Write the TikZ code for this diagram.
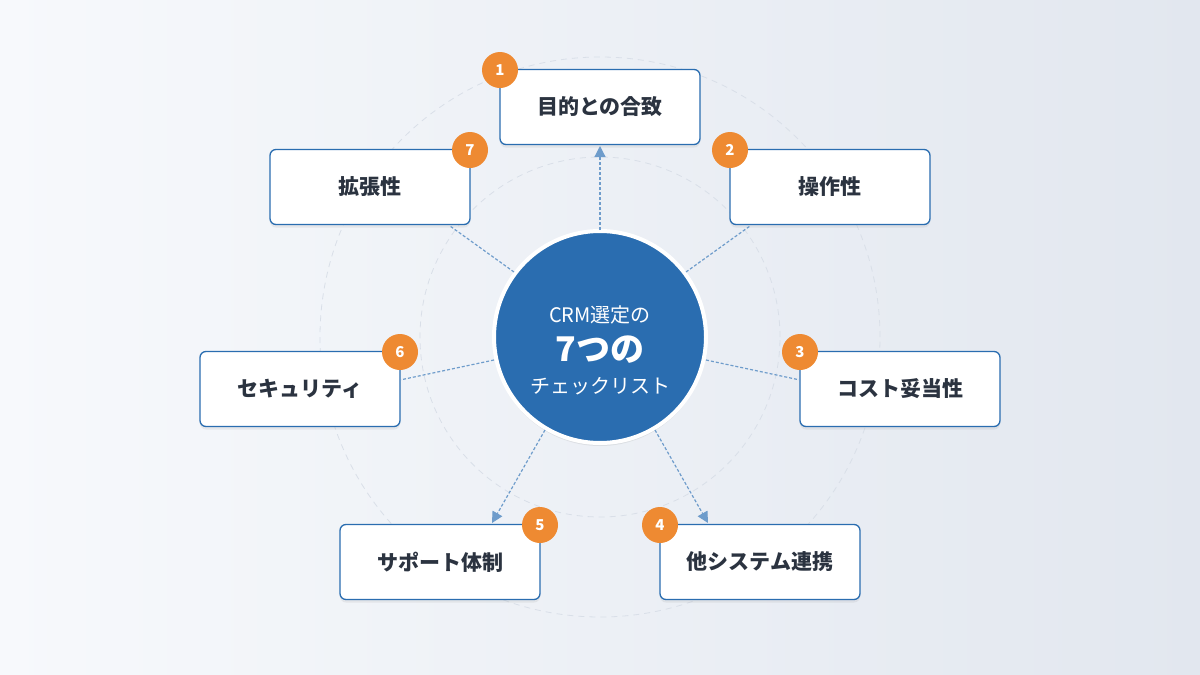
\documentclass[tikz,border=0pt]{standalone}
\usepackage{fontspec}
\setmainfont{Noto Sans CJK JP}
\usetikzlibrary{arrows.meta,shadows}
\definecolor{mainblue}{HTML}{2A6DB0}
\definecolor{lineblue}{HTML}{6E9CCB}
\definecolor{badge}{HTML}{EE8A32}
\definecolor{txt}{HTML}{2B3340}
\definecolor{bgA}{HTML}{F7F9FC}
\definecolor{bgB}{HTML}{E2E7EF}
\definecolor{ringc}{HTML}{D9DFE8}
\begin{document}
\begin{tikzpicture}[x=1pt,y=-1pt,
  box/.style={draw=mainblue,line width=1.3pt,fill=white,rounded corners=6pt,minimum width=200pt,minimum height=75pt,font=\bfseries\fontsize{21}{24}\selectfont,text=txt,drop shadow={opacity=0.12,shadow xshift=0pt,shadow yshift=-3pt}},
  num/.style={circle,fill=badge,minimum size=36pt,inner sep=0pt,text=white,font=\bfseries\fontsize{15}{18}\selectfont},
  conn/.style={draw=lineblue,line width=1.2pt,dash pattern=on 3pt off 2pt},
  arr/.style={conn,-{Triangle[length=11pt,width=11pt]}},
  ring/.style={draw=ringc,line width=0.8pt,dash pattern=on 6pt off 5pt}]
\useasboundingbox (0,0) rectangle (1200,675);
\shade[left color=bgA,right color=bgB] (0,0) rectangle (1200,675);
\path[ring] (600,337) circle (180pt);
\path[ring] (600,337) circle (280pt);
\node[circle,fill=mainblue,draw=white,line width=4pt,minimum size=212pt,drop shadow={opacity=0.15,shadow xshift=0pt,shadow yshift=-3pt}] (c) at (600,337) {};
\node[text=white,font=\fontsize{20}{24}\selectfont] (t1) at (600,315) {CRM選定の};
\node[text=white,font=\bfseries\fontsize{34}{40}\selectfont] (t2) at (600,350) {7つの};
\node[text=white,font=\fontsize{20}{24}\selectfont] (t3) at (600,386) {チェックリスト};
\node[box] (b1) at (600,107) {目的との合致};
\node[box] (b2) at (830,187) {操作性};
\node[box] (b3) at (900,389) {コスト妥当性};
\node[box] (b4) at (760,562) {他システム連携};
\node[box] (b5) at (440,562) {サポート体制};
\node[box] (b6) at (300,389) {セキュリティ};
\node[box] (b7) at (370,187) {拡張性};
\coordinate (s1) at (600,230); \coordinate (e1) at (600,146);
\coordinate (s2) at (686,272); \coordinate (e2) at (750,226);
\coordinate (s3) at (706,360); \coordinate (e3) at (800,380);
\coordinate (s4) at (655,430); \coordinate (e4) at (708,523);
\coordinate (s5) at (545,430); \coordinate (e5) at (492,523);
\coordinate (s6) at (494,360); \coordinate (e6) at (400,380);
\coordinate (s7) at (514,272); \coordinate (e7) at (450,226);
\draw[arr] (s1) -- (e1);
\draw[conn] (s2) -- (e2);
\draw[conn] (s3) -- (e3);
\draw[arr] (s4) -- (e4);
\draw[arr] (s5) -- (e5);
\draw[conn] (s6) -- (e6);
\draw[conn] (s7) -- (e7);
\node[num] (n1) at (500,70) {1};
\node[num] (n2) at (730,150) {2};
\node[num] (n3) at (800,352) {3};
\node[num] (n4) at (660,525) {4};
\node[num] (n5) at (540,525) {5};
\node[num] (n6) at (400,352) {6};
\node[num] (n7) at (470,150) {7};
\end{tikzpicture}
\end{document}
